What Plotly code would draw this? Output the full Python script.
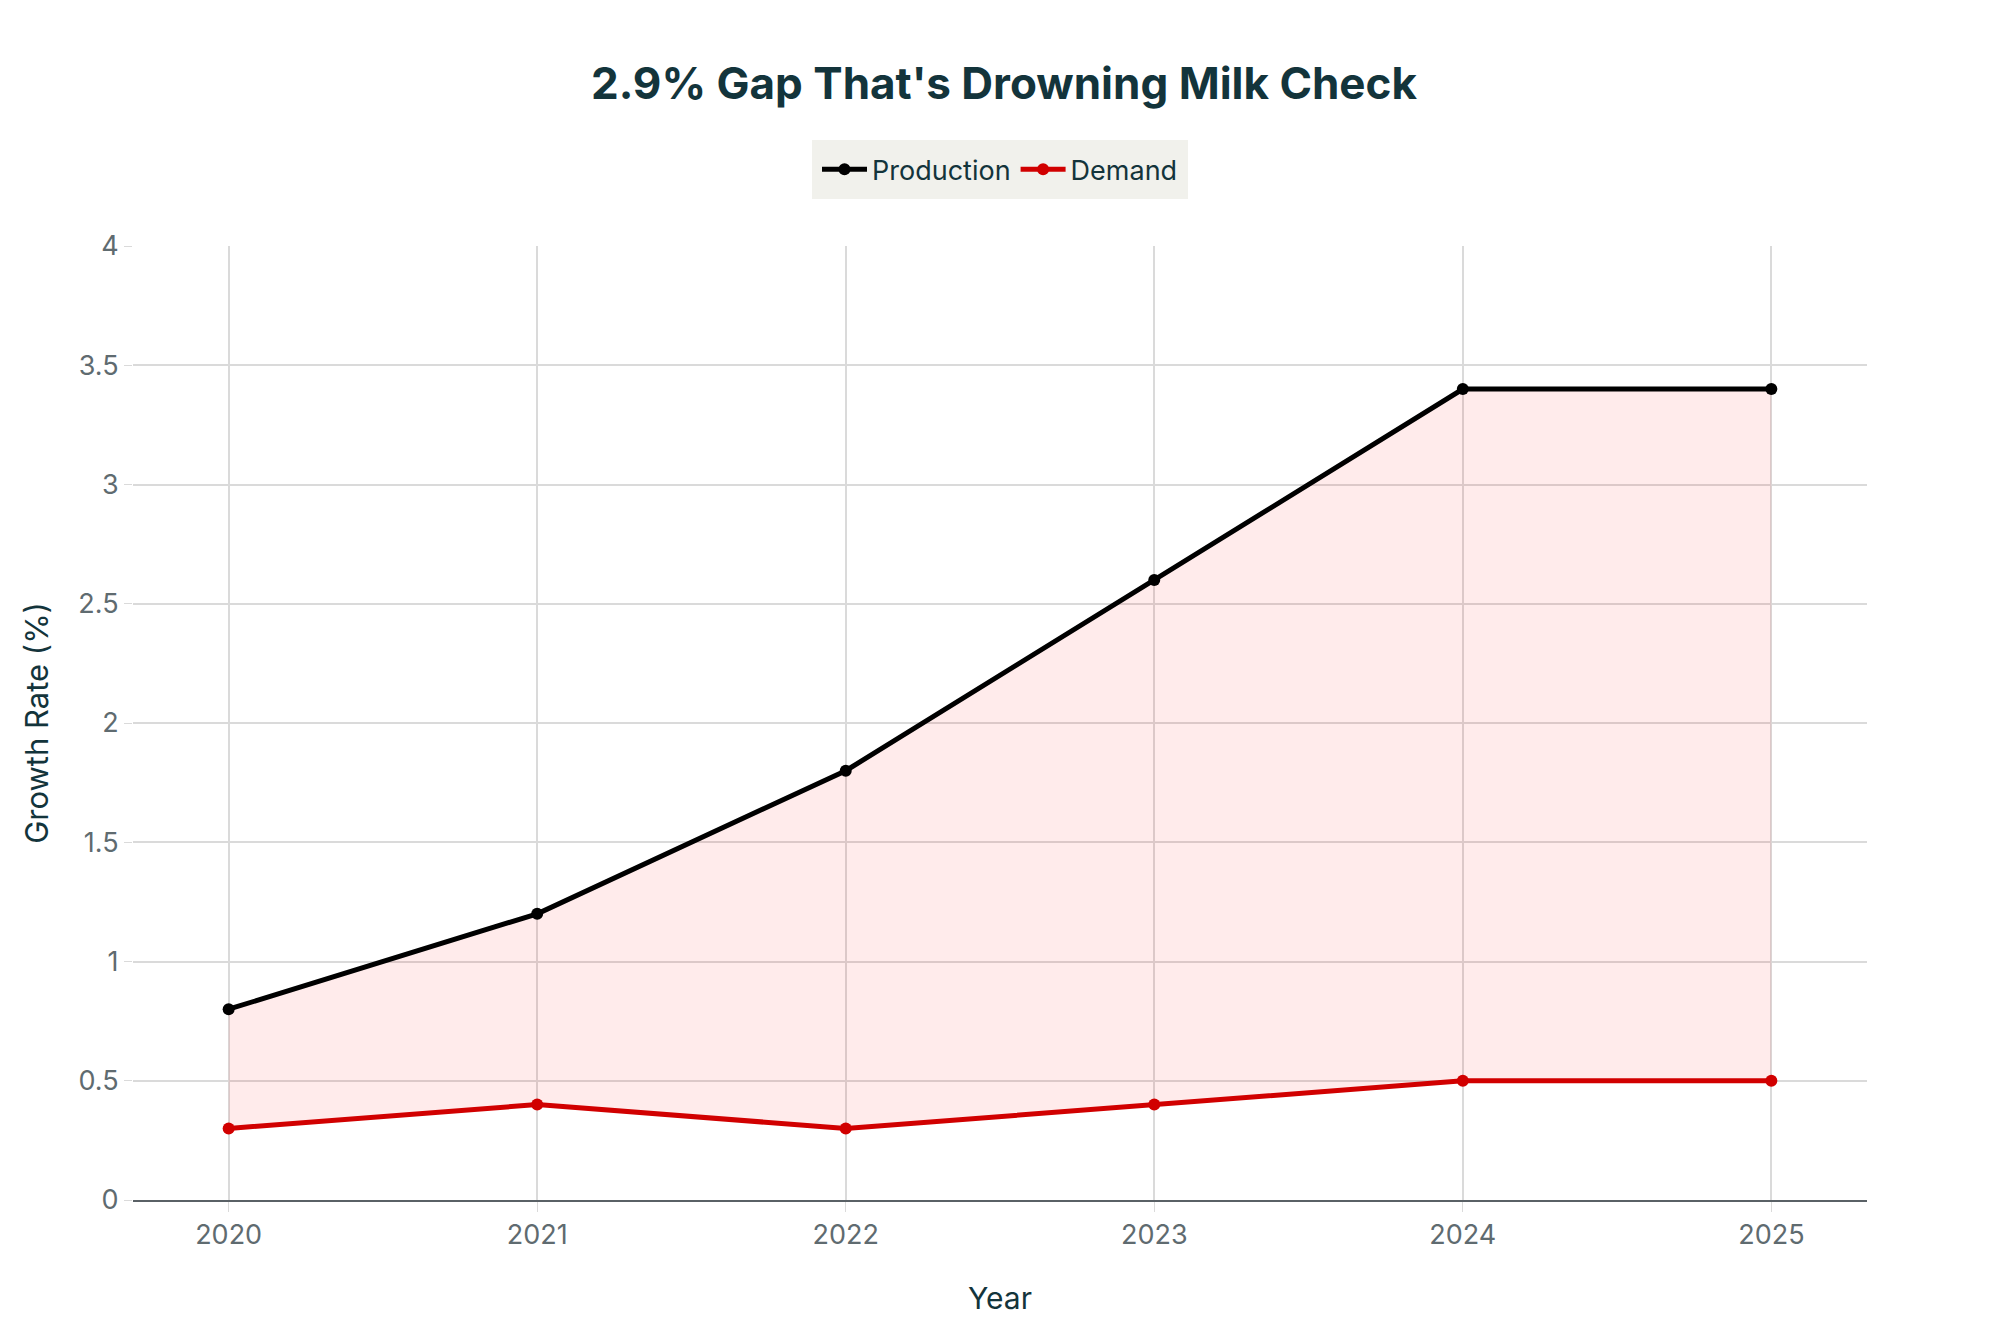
import plotly.graph_objects as go

# Data
years = [2020, 2021, 2022, 2023, 2024, 2025]
production = [0.8, 1.2, 1.8, 2.6, 3.4, 3.4]
demand = [0.3, 0.4, 0.3, 0.4, 0.5, 0.5]

title_color = '#13343B'
tick_color = '#5F6B70'
grid_color = '#DADADA'
legend_bg = '#F1F1EC'

fig = go.Figure()

# shaded gap between the two series (kept out of the legend)
fig.add_trace(go.Scatter(x=years, y=demand, mode='lines', line=dict(width=0),
                         showlegend=False, hoverinfo='skip'))
fig.add_trace(go.Scatter(x=years, y=production, mode='lines', line=dict(width=0),
                         fill='tonexty', fillcolor='rgba(255, 0, 0, 0.08)',
                         showlegend=False, hoverinfo='skip'))

fig.add_trace(go.Scatter(x=years, y=production, mode='lines+markers', name='Production',
                         line=dict(color='#000000', width=5),
                         marker=dict(color='#000000', size=12)))
fig.add_trace(go.Scatter(x=years, y=demand, mode='lines+markers', name='Demand',
                         line=dict(color='#D10000', width=5),
                         marker=dict(color='#D10000', size=12)))

fig.update_layout(
    width=1992, height=1325,
    paper_bgcolor='white', plot_bgcolor='white',
    font=dict(family='Inter, Liberation Sans, sans-serif', color=title_color),
    title=dict(text="<b>2.9% Gap That's Drowning Milk Check</b>", x=0.5, xanchor='center',
               y=0.943, yanchor='middle', font=dict(size=44, color=title_color)),
    legend=dict(orientation='h', x=0.5, xanchor='center', y=1.08, yanchor='middle',
                traceorder='normal', bgcolor=legend_bg, bordercolor=legend_bg, borderwidth=5,
                itemwidth=45, font=dict(size=27, color=title_color)),
    margin=dict(l=125, r=133, t=238, b=133),
    showlegend=True,
)

fig.update_xaxes(
    title=dict(text='Year', font=dict(size=30, color=title_color), standoff=38),
    range=[2019.69, 2025.31], tickvals=years, ticktext=[str(y) for y in years],
    showgrid=True, gridcolor=grid_color, gridwidth=1.5,
    ticks='outside', ticklen=10, tickcolor=grid_color,
    tickfont=dict(size=27, color=tick_color),
    showline=True, linecolor='#5A6166', linewidth=2, zeroline=False,
)
fig.update_yaxes(
    title=dict(text='Growth Rate (%)', font=dict(size=31, color=title_color), standoff=20),
    range=[0, 4], dtick=0.5,
    showgrid=True, gridcolor=grid_color, gridwidth=1.5,
    ticks='outside', ticklen=8, tickcolor=grid_color,
    tickfont=dict(size=27, color=tick_color),
    zeroline=False, showline=False,
)

fig.write_html('out.html')
